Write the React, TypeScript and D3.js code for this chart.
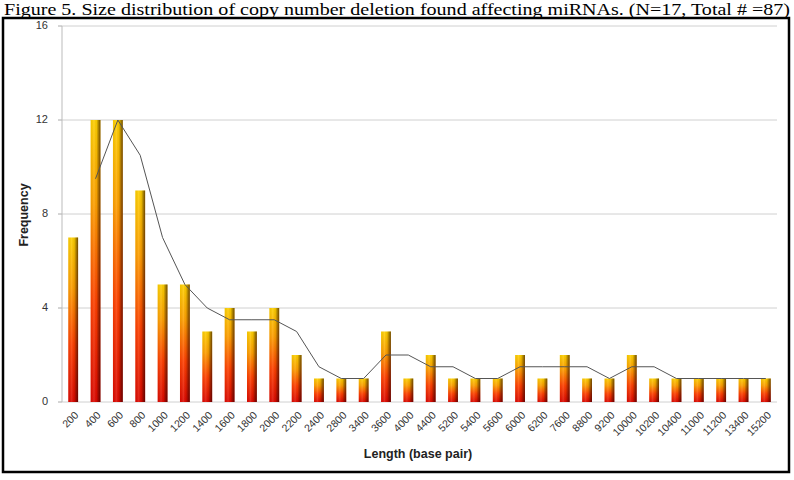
import * as d3 from 'd3';

const categories = ['200', '400', '600', '800', '1000', '1200', '1400', '1600', '1800', '2000', '2200', '2400', '2800', '3400', '3600', '4000', '4400', '5200', '5400', '5600', '6000', '6200', '7600', '8800', '9200', '10000', '10200', '10400', '11000', '11200', '13400', '15200'];
const frequency = [7, 12, 12, 9, 5, 5, 3, 4, 3, 4, 2, 1, 1, 1, 3, 1, 2, 1, 1, 1, 2, 1, 2, 1, 1, 2, 1, 1, 1, 1, 1, 1];
// 2-period moving average trend line (starts at the 2nd category)
const trend = [9.5, 12, 10.5, 7, 5, 4, 3.5, 3.5, 3.5, 3, 1.5, 1, 1, 2, 2, 1.5, 1.5, 1, 1, 1.5, 1.5, 1.5, 1.5, 1, 1.5, 1.5, 1, 1, 1, 1, 1];
const yTicks = [0, 4, 8, 12, 16];

const title = 'Figure 5. Size distribution of copy number deletion found affecting miRNAs. (N=17, Total # =87)';

const width = 794;
const height = 480;
const plot = { left: 62, right: 777, top: 26, bottom: 402 };

const App = () => {
  const x = d3.scaleBand().domain(categories).range([plot.left, plot.right]).paddingInner(0.56).paddingOuter(0.28);
  const y = d3.scaleLinear().domain([0, 16]).range([plot.bottom, plot.top]);

  const line = d3.line<number>()
    .x((d, i) => x(categories[i + 1])! + x.bandwidth() / 2)
    .y((d) => y(d));

  return (
    <svg width={width} height={height} style={{ position: 'absolute', left: 0, top: 0, background: '#fff' }}>
      <defs>
        <linearGradient id="barV" x1="0" y1="0" x2="0" y2="1">
          <stop offset="0%" stopColor="#ffd000" />
          <stop offset="30%" stopColor="#ffa000" />
          <stop offset="65%" stopColor="#ff4000" />
          <stop offset="100%" stopColor="#dd0800" />
        </linearGradient>
        <linearGradient id="barH" x1="0" y1="0" x2="1" y2="0">
          <stop offset="0%" stopColor="#000" stopOpacity={0.05} />
          <stop offset="35%" stopColor="#fff" stopOpacity={0.12} />
          <stop offset="60%" stopColor="#000" stopOpacity={0.05} />
          <stop offset="100%" stopColor="#200" stopOpacity={0.65} />
        </linearGradient>
      </defs>

      <text x={397} y={15} textAnchor="middle" fontFamily="Liberation Serif, Times New Roman, serif" fontSize={17} textLength={786} lengthAdjust="spacingAndGlyphs">
        {title}
      </text>

      <rect x={3} y={18} width={786} height={454} fill="#fff" stroke="#000" strokeWidth={2.5} />

      {yTicks.map((t) => (
        <g key={t}>
          <line x1={plot.left} x2={plot.right} y1={y(t)} y2={y(t)} stroke="#d0d0d0" strokeWidth={1} />
          <line x1={plot.left - 4} x2={plot.left} y1={y(t)} y2={y(t)} stroke="#aaa" />
          <text x={plot.left - 14} y={y(t)} textAnchor="end" dominantBaseline="middle" fontFamily="Liberation Sans, Arial, sans-serif" fontSize={11} fill="#333">
            {t}
          </text>
        </g>
      ))}
      <line x1={plot.left} x2={plot.left} y1={plot.top} y2={plot.bottom} stroke="#bbb" />

      {frequency.map((v, i) => (
        <g key={categories[i]}>
          <rect x={x(categories[i])} y={y(v)} width={x.bandwidth()} height={y(0) - y(v)} fill="url(#barV)" />
          <rect x={x(categories[i])} y={y(v)} width={x.bandwidth()} height={y(0) - y(v)} fill="url(#barH)" />
        </g>
      ))}

      <path d={line(trend) ?? ''} fill="none" stroke="#555" strokeWidth={1} />

      {categories.map((c) => {
        const cx = x(c)! + x.bandwidth() / 2 + 4;
        return (
          <text key={c} transform={`translate(${cx},${plot.bottom + 12}) rotate(-45)`} textAnchor="end" dominantBaseline="middle" fontFamily="Liberation Sans, Arial, sans-serif" fontSize={10.5} fill="#333">
            {c}
          </text>
        );
      })}

      <text x={418} y={458} textAnchor="middle" fontFamily="Liberation Sans, Arial, sans-serif" fontSize={12.5} fontWeight={700} fill="#222">
        Length (base pair)
      </text>
      <text transform="translate(25,215) rotate(-90)" textAnchor="middle" dominantBaseline="middle" fontFamily="Liberation Sans, Arial, sans-serif" fontSize={12.5} fontWeight={700} fill="#222">
        Frequency
      </text>
    </svg>
  );
};

export default App;
